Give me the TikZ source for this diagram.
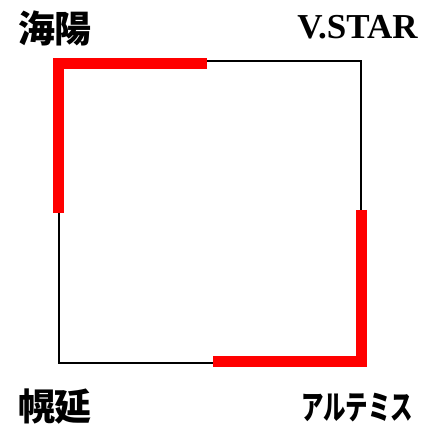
\documentclass[tikz,border=0pt]{standalone}
\usepackage{fontspec}
\setmainfont{Liberation Serif}
\newfontfamily\cjk{Noto Sans CJK JP}
\begin{document}
\begin{tikzpicture}[x=1pt,y=1pt,
  frame/.style={line width=2pt,black},
  redline/.style={line width=11pt,red,line join=miter},
  cjklabel/.style={font=\cjk\bfseries\fontsize{37}{37}\selectfont,inner sep=0pt},
  latinlabel/.style={font=\bfseries\fontsize{35}{35}\selectfont,inner sep=0pt}]
\useasboundingbox (0,0) rectangle (424,424);
\coordinate (tl) at (58.5,362.5);
\coordinate (tr) at (360.5,362.5);
\coordinate (br) at (360.5,60.5);
\coordinate (bl) at (58.5,60.5);
\draw[frame] (tl) -- (tr) -- (br) -- (bl) -- cycle;
\coordinate (r1a) at (58,211);
\coordinate (r1b) at (58,360.5);
\coordinate (r1c) at (207,360.5);
\draw[redline] (r1a) -- (r1b) -- (r1c);
\coordinate (r2a) at (361,214);
\coordinate (r2b) at (361,62.5);
\coordinate (r2c) at (213,62.5);
\draw[redline] (r2a) -- (r2b) -- (r2c);
\node[cjklabel] (kaiyo) at (55,396) {海陽};
\node[latinlabel] (vstar) at (357.5,397) {V.STAR};
\node[cjklabel] (horonobe) at (55,17) {幌延};
\node[cjklabel,xscale=0.68,font=\cjk\bfseries\fontsize{33}{33}\selectfont] (artemis) at (357,16) {アルテミス};
\end{tikzpicture}
\end{document}
